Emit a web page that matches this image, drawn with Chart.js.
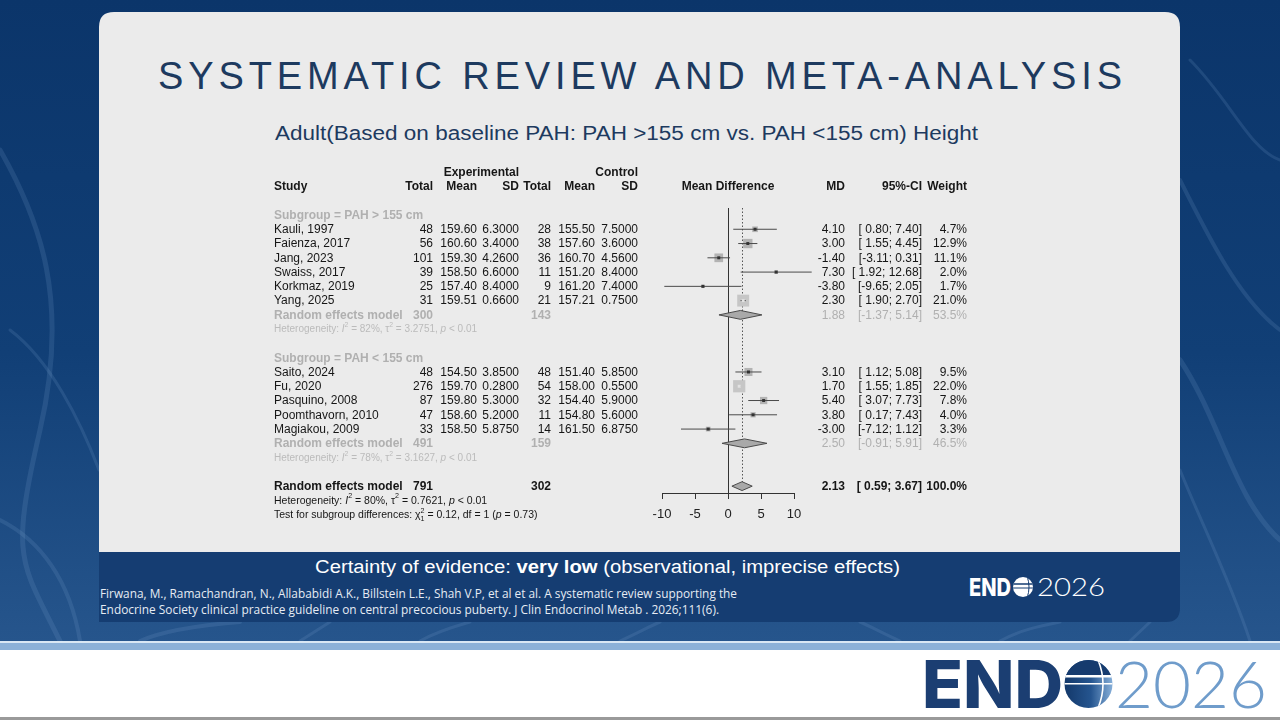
<!DOCTYPE html>
<html>
<head>
<meta charset="utf-8">
<script src="https://cdn.jsdelivr.net/npm/chart.js@4.4.1/dist/chart.umd.min.js"></script>
<style>
html,body{margin:0;padding:0;width:1280px;height:720px;overflow:hidden;background:#fff}
#deco{position:absolute;left:0;top:0}
#forest{position:absolute;left:0;top:0;width:1280px;height:720px}
</style>
</head>
<body>
<svg id="deco" width="1280" height="720" viewBox="0 0 1280 720" xmlns="http://www.w3.org/2000/svg">
<defs>
 <linearGradient id="bgG" x1="0" y1="0" x2="0" y2="1">
  <stop offset="0" stop-color="#0b356a"/>
  <stop offset="0.55" stop-color="#113f76"/>
  <stop offset="1" stop-color="#26558c"/>
 </linearGradient>
 <linearGradient id="globeG" x1="0" y1="0" x2="1" y2="0">
  <stop offset="0" stop-color="#13386a"/>
  <stop offset="0.55" stop-color="#25558f"/>
  <stop offset="1" stop-color="#86afd9"/>
 </linearGradient>
 <clipPath id="gClip"><circle cx="1088.5" cy="684" r="24"/></clipPath>
 <clipPath id="sClip"><circle cx="1023" cy="587" r="10"/></clipPath>
</defs>
<rect x="0" y="0" width="1280" height="641" fill="url(#bgG)"/>
<g fill="none" stroke="#7aa1cf" stroke-opacity="0.18" stroke-linecap="round">
 <path d="M0,150 C40,220 70,300 40,430 S20,560 60,641" stroke-width="5"/>
 <path d="M10,330 C50,360 80,420 99,470" stroke-width="3"/>
 <path d="M0,520 C40,540 70,580 80,641" stroke-width="4"/>
 <path d="M1180,180 C1210,240 1240,300 1280,330" stroke-width="4"/>
 <path d="M1180,360 C1220,420 1235,500 1280,540" stroke-width="5"/>
 <path d="M1180,470 C1200,520 1230,580 1250,641" stroke-width="3"/>
 <path d="M140,641 C160,632 190,626 240,622" stroke-width="4"/>
 <path d="M300,641 L330,622 M420,641 C440,630 460,625 470,622" stroke-width="3"/>
 <path d="M620,641 C640,632 650,626 660,622 M900,641 C880,632 870,626 860,622" stroke-width="3"/>
 <path d="M1000,641 C1020,630 1040,626 1060,622 M1130,641 L1150,622" stroke-width="3"/>
 <path d="M1190,60 C1230,100 1250,150 1280,160" stroke-width="3"/>
</g>
<path d="M99,552 H1180 V608 Q1180,622 1166,622 H99 Z" fill="#153d72"/>
<path d="M99,552 V27 Q99,12 114,12 H1165 Q1180,12 1180,27 V552 Z" fill="#ebebeb"/>
<rect x="0" y="641" width="1280" height="79" fill="#ffffff"/>
<rect x="0" y="641" width="1280" height="2" fill="#d9e7f4"/>
<rect x="0" y="643" width="1280" height="7" fill="#8cb1d8"/>
<rect x="0" y="717" width="1280" height="3" fill="#9a9a9a"/>

<text x="640" y="89" text-anchor="middle" font-family="'Liberation Sans', Arial, sans-serif" font-size="38" fill="#1d3a5f" textLength="964" lengthAdjust="spacing">SYSTEMATIC REVIEW AND META-ANALYSIS</text>
<text x="626.5" y="140" text-anchor="middle" font-family="'Liberation Sans', Arial, sans-serif" font-size="20" fill="#1d3a5f" textLength="703" lengthAdjust="spacingAndGlyphs">Adult(Based on baseline PAH: PAH &gt;155 cm vs. PAH &lt;155 cm) Height</text>

<text x="607.5" y="573" text-anchor="middle" font-family="'Liberation Sans', Arial, sans-serif" font-size="18" fill="#ffffff" textLength="585" lengthAdjust="spacingAndGlyphs">Certainty of evidence: <tspan font-weight="bold">very low</tspan> (observational, imprecise effects)</text>
<text x="100" y="598" font-family="'Liberation Sans Narrow', 'Open Sans', sans-serif" font-size="12" fill="#e6ecf4" textLength="637" lengthAdjust="spacingAndGlyphs">Firwana, M., Ramachandran, N., Allababidi A.K., Billstein L.E., Shah V.P, et al et al. A systematic review supporting the</text>
<text x="100" y="614" font-family="'Liberation Sans Narrow', 'Open Sans', sans-serif" font-size="12" fill="#e6ecf4" textLength="619" lengthAdjust="spacingAndGlyphs">Endocrine Society clinical practice guideline on central precocious puberty. J Clin Endocrinol Metab . 2026;111(6).</text>

<!-- small logo in band -->
<text x="969" y="596" font-family="Inter, Lato, 'DejaVu Sans', sans-serif" font-weight="800" font-size="25" fill="#ffffff" textLength="42" lengthAdjust="spacingAndGlyphs">END</text>
<circle cx="1023" cy="587" r="10" fill="#ffffff"/>
<g clip-path="url(#sClip)" stroke="#153d72" fill="none">
 <line x1="1010" y1="584" x2="1036" y2="584" stroke-width="1.6"/>
 <line x1="1010" y1="588" x2="1036" y2="588" stroke-width="1"/>
 <path d="M1027,576 Q1031,587 1027,598" stroke-width="1"/>
</g>
<text x="1037" y="596" font-family="Lato, Inter, 'DejaVu Sans', sans-serif" font-weight="300" font-size="25" fill="#ffffff" textLength="68" lengthAdjust="spacingAndGlyphs">2026</text>

<!-- big logo -->
<text x="922" y="708" font-family="Inter, Lato, 'DejaVu Sans', sans-serif" font-weight="800" font-size="66" fill="#1b3e72" textLength="141" lengthAdjust="spacingAndGlyphs">END</text>
<circle cx="1088.5" cy="684" r="24" fill="url(#globeG)"/>
<g clip-path="url(#gClip)">
 <rect x="1060" y="655" width="60" height="20" fill="#163b6e"/>
 <rect x="1060" y="675" width="60" height="2.5" fill="#ffffff"/>
 <rect x="1060" y="683" width="60" height="1.5" fill="#ffffff"/>
 <path d="M1098,660 Q1108,684 1098,708" fill="none" stroke="#ffffff" stroke-width="1.6"/>
</g>
<text x="1115" y="708" font-family="Lato, Inter, 'DejaVu Sans', sans-serif" font-weight="300" font-size="66" fill="#6f9ccb" textLength="152" lengthAdjust="spacingAndGlyphs">2026</text>
</svg>

<canvas id="forest" width="1280" height="720"></canvas>

<script>
// ---------------- DATA ----------------
const studies   = ["Kauli, 1997","Faienza, 2017","Jang, 2023","Swaiss, 2017","Korkmaz, 2019","Yang, 2025",
                   "Saito, 2024","Fu, 2020","Pasquino, 2008","Poomthavorn, 2010","Magiakou, 2009"];
const studyRows = [1,2,3,4,5,6,11,12,13,14,15];
const expTotal  = [48,56,101,39,25,31,48,276,87,47,33];
const expMean   = ["159.60","160.60","159.30","158.50","157.40","159.51","154.50","159.70","159.80","158.60","158.50"];
const expSD     = ["6.3000","3.4000","4.2600","6.6000","8.4000","0.6600","3.8500","0.2800","5.3000","5.2000","5.8750"];
const ctlTotal  = [28,38,36,11,9,21,48,54,32,11,14];
const ctlMean   = ["155.50","157.60","160.70","151.20","161.20","157.21","151.40","158.00","154.40","154.80","161.50"];
const ctlSD     = ["7.5000","3.6000","4.5600","8.4000","7.4000","0.7500","5.8500","0.5500","5.9000","5.6000","6.8750"];
const md        = [4.10,3.00,-1.40,7.30,-3.80,2.30,3.10,1.70,5.40,3.80,-3.00];
const ciLow     = [0.80,1.55,-3.11,1.92,-9.65,1.90,1.12,1.55,3.07,0.17,-7.12];
const ciHigh    = [7.40,4.45,0.31,12.68,2.05,2.70,5.08,1.85,7.73,7.43,1.12];
const weight    = [4.7,12.9,11.1,2.0,1.7,21.0,9.5,22.0,7.8,4.0,3.3];

const subgroupLabels = ["Subgroup = PAH > 155 cm","Subgroup = PAH < 155 cm"];
const subgroupRows   = [0,10];
const pooledLabel    = "Random effects model";
const pooledRows     = [7,16,19];
const pooledExpTotal = [300,491,791];
const pooledCtlTotal = [143,159,302];
const pooledMD       = [1.88,2.50,2.13];
const pooledLow      = [-1.37,-0.91,0.59];
const pooledHigh     = [5.14,5.91,3.67];
const pooledWeight   = [53.5,46.5,100.0];
const hetRows        = [8,17,20];
const hetI2          = [82,78,80];
const hetTau2        = ["3.2751","3.1627","0.7621"];
const hetP           = ["< 0.01","< 0.01","< 0.01"];
const testRow        = 21;
const testChi2       = "0.12";
const testDf         = 1;
const testP          = "0.73";
const xTicks         = [-10,-5,0,5,10];

// ---------------- STYLE / LAYOUT ----------------
const F = "'Liberation Sans', Arial, Helvetica, sans-serif";
const INK = '#161616', GREY = '#b0b0b0', GREY2 = '#bbbbbb';
const COL = {study:274, expTotal:433, expMean:477, expSD:519, ctlTotal:551, ctlMean:595, ctlSD:638, md:845, ci:922, weight:967};
const TXT_DY = 0.5;

function fmtCI(lo, hi){ return "[" + (lo >= 0 ? " " : "") + lo.toFixed(2) + "; " + hi.toFixed(2) + "]"; }

function put(ctx, s, x, y, align, font, color){
  ctx.font = font; ctx.textAlign = align; ctx.fillStyle = color; ctx.textBaseline = 'middle';
  ctx.fillText(s, x, y + TXT_DY);
}
function rich(ctx, x, y, segs, size, color){
  let cx = x;
  for (const s of segs){
    let sz = size, dy = 0;
    if (s.sup){ sz = size*0.68; dy = -size*0.42; }
    if (s.sub){ sz = size*0.68; dy = size*0.38; }
    ctx.font = (s.it ? 'italic ' : '') + sz + 'px ' + F;
    ctx.fillStyle = color; ctx.textAlign = 'left'; ctx.textBaseline = 'middle';
    ctx.fillText(s.t, cx, y + dy + TXT_DY);
    if (!s.stay) cx += ctx.measureText(s.t).width;
  }
}
function hetSegs(i){
  return [{t:"Heterogeneity: "},{t:"I",it:1},{t:"2",sup:1},{t:" = " + hetI2[i] + "%, "},{t:"\u03C4"},{t:"2",sup:1},
          {t:" = " + hetTau2[i] + ", "},{t:"p",it:1},{t:" " + hetP[i]}];
}

const forestPlugin = {
  id: 'forest',
  beforeDatasetsDraw(chart){
    const {ctx, chartArea:a, scales:{x, y}} = chart;
    ctx.save();
    const x0 = Math.round(x.getPixelForValue(0)) + 0.5;
    ctx.strokeStyle = '#333'; ctx.lineWidth = 1;
    ctx.beginPath(); ctx.moveTo(x0, a.top); ctx.lineTo(x0, a.bottom); ctx.stroke();
    const xd = Math.round(x.getPixelForValue(pooledMD[2])) + 0.5;
    ctx.strokeStyle = '#555'; ctx.setLineDash([1.5, 2]);
    ctx.beginPath(); ctx.moveTo(xd, a.top); ctx.lineTo(xd, y.getPixelForValue(pooledRows[2])); ctx.stroke();
    ctx.restore();
  },
  afterDatasetsDraw(chart){
    const {ctx, scales:{x, y}} = chart;
    ctx.save();
    const h = Math.abs(y.getPixelForValue(0.31) - y.getPixelForValue(0));
    for (let i = 0; i < pooledRows.length; i++){
      const yc = y.getPixelForValue(pooledRows[i]);
      const xl = x.getPixelForValue(pooledLow[i]), xm = x.getPixelForValue(pooledMD[i]), xh = x.getPixelForValue(pooledHigh[i]);
      ctx.beginPath(); ctx.moveTo(xl, yc); ctx.lineTo(xm, yc - h); ctx.lineTo(xh, yc); ctx.lineTo(xm, yc + h); ctx.closePath();
      ctx.fillStyle = '#a9a9a9'; ctx.fill();
      ctx.strokeStyle = '#4a4a4a'; ctx.lineWidth = 1; ctx.stroke();
    }
    ctx.restore();
  },
  afterDraw(chart){
    const {ctx, scales:{x, y}} = chart;
    const Y = r => y.getPixelForValue(r);
    const R = '12px ' + F, B = 'bold 12px ' + F;
    ctx.save();
    // headers
    put(ctx, "Experimental", COL.expSD, Y(-3), 'right', B, INK);
    put(ctx, "Control", COL.ctlSD, Y(-3), 'right', B, INK);
    const hy = Y(-2);
    put(ctx, "Study", COL.study, hy, 'left', B, INK);
    put(ctx, "Total", COL.expTotal, hy, 'right', B, INK);
    put(ctx, "Mean", COL.expMean, hy, 'right', B, INK);
    put(ctx, "SD", COL.expSD, hy, 'right', B, INK);
    put(ctx, "Total", COL.ctlTotal, hy, 'right', B, INK);
    put(ctx, "Mean", COL.ctlMean, hy, 'right', B, INK);
    put(ctx, "SD", COL.ctlSD, hy, 'right', B, INK);
    put(ctx, "Mean Difference", x.getPixelForValue(0), hy, 'center', B, INK);
    put(ctx, "MD", COL.md, hy, 'right', B, INK);
    put(ctx, "95%-CI", COL.ci, hy, 'right', B, INK);
    put(ctx, "Weight", COL.weight, hy, 'right', B, INK);
    // subgroups
    subgroupLabels.forEach((s, i) => put(ctx, s, COL.study, Y(subgroupRows[i]), 'left', B, GREY));
    // studies
    studies.forEach((s, i) => {
      const yy = Y(studyRows[i]);
      put(ctx, s, COL.study, yy, 'left', R, INK);
      put(ctx, String(expTotal[i]), COL.expTotal, yy, 'right', R, INK);
      put(ctx, expMean[i], COL.expMean, yy, 'right', R, INK);
      put(ctx, expSD[i], COL.expSD, yy, 'right', R, INK);
      put(ctx, String(ctlTotal[i]), COL.ctlTotal, yy, 'right', R, INK);
      put(ctx, ctlMean[i], COL.ctlMean, yy, 'right', R, INK);
      put(ctx, ctlSD[i], COL.ctlSD, yy, 'right', R, INK);
      put(ctx, md[i].toFixed(2), COL.md, yy, 'right', R, INK);
      put(ctx, fmtCI(ciLow[i], ciHigh[i]), COL.ci, yy, 'right', R, INK);
      put(ctx, weight[i].toFixed(1) + "%", COL.weight, yy, 'right', R, INK);
    });
    // pooled
    pooledRows.forEach((r, i) => {
      const yy = Y(r), last = i === pooledRows.length - 1;
      const c = last ? INK : GREY;
      put(ctx, pooledLabel, COL.study, yy, 'left', B, c);
      put(ctx, String(pooledExpTotal[i]), COL.expTotal, yy, 'right', B, c);
      put(ctx, String(pooledCtlTotal[i]), COL.ctlTotal, yy, 'right', B, c);
      const f = last ? B : R;
      put(ctx, pooledMD[i].toFixed(2), COL.md, yy, 'right', f, c);
      put(ctx, fmtCI(pooledLow[i], pooledHigh[i]), COL.ci, yy, 'right', f, c);
      put(ctx, pooledWeight[i].toFixed(1) + "%", COL.weight, yy, 'right', f, c);
    });
    // heterogeneity
    hetRows.forEach((r, i) => {
      const last = i === hetRows.length - 1;
      rich(ctx, COL.study, Y(r), hetSegs(i), last ? 10.5 : 10, last ? INK : GREY2);
    });
    rich(ctx, COL.study, Y(testRow), [{t:"Test for subgroup differences: "},{t:"\u03C7"},{t:"2",sup:1,stay:1},{t:"1",sub:1},
      {t:" = " + testChi2 + ", df = " + testDf + " ("},{t:"p",it:1},{t:" = " + testP + ")"}], 10.5, INK);
    ctx.restore();
  }
};

const pts = md.map((v, i) => ({x: v, y: studyRows[i]}));
const ciSets = studies.map((s, i) => ({
  type: 'line', label: s,
  data: [{x: ciLow[i], y: studyRows[i]}, {x: ciHigh[i], y: studyRows[i]}],
  borderColor: '#4a4a4a', borderWidth: 1, pointRadius: 0, clip: false, order: 2
}));

new Chart(document.getElementById('forest'), {
  type: 'scatter',
  data: {
    datasets: [
      {type: 'scatter', label: 'MD', data: pts, pointStyle: 'rect',
       pointRadius: 2.1, borderWidth: 0,
       backgroundColor: c => weight[c.dataIndex] > 20 ? '#e2e2e2' : '#333', clip: false, order: 1},
      ...ciSets,
      {type: 'scatter', label: 'Weight', data: pts, pointStyle: 'rect',
       pointRadius: c => 1.84 * Math.sqrt(weight[c.dataIndex]), borderWidth: 0,
       backgroundColor: c => weight[c.dataIndex] > 20 ? '#c6c6c6' : '#b3b3b3', clip: false, order: 3}
    ]
  },
  options: {
    responsive: false, animation: false, events: [],
    layout: {padding: {left: 662, right: 486, top: 208, bottom: 197}},
    plugins: {legend: {display: false}, tooltip: {enabled: false}},
    scales: {
      x: {
        type: 'linear', min: xTicks[0], max: xTicks[xTicks.length - 1],
        afterFit: s => { s.height = 30; },
        afterBuildTicks: s => { s.ticks = xTicks.map(v => ({value: v})); },
        ticks: {color: '#222', font: {family: F, size: 13}, padding: 8, maxRotation: 0, autoSkip: false},
        grid: {drawOnChartArea: false, drawTicks: true, tickLength: 6, color: '#333', lineWidth: 1},
        border: {display: true, color: '#333', width: 1}
      },
      y: {type: 'linear', display: false, reverse: true, min: -0.49, max: 19.48}
    }
  },
  plugins: [forestPlugin]
});
</script>
</body>
</html>
